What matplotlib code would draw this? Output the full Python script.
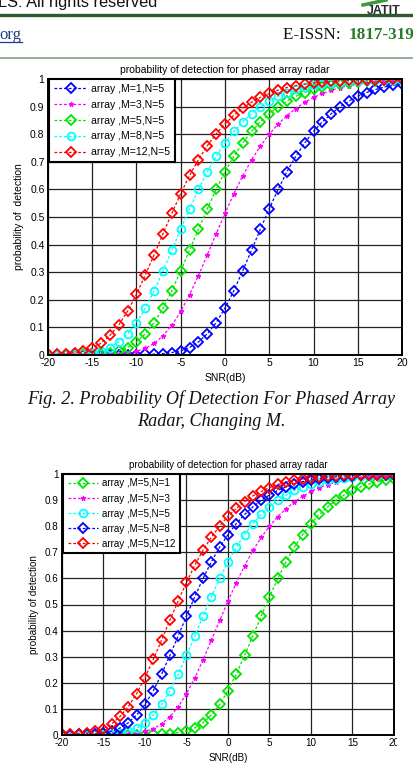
import matplotlib
matplotlib.use("Agg")
import matplotlib.pyplot as plt
from matplotlib.lines import Line2D
from matplotlib.patches import Rectangle

# =========================================
# DATA
# =========================================

snr = list(range(-20, 21))

# M*N = 5
pd_mn5 = [0.000, 0.000, 0.000, 0.000, 0.000, 0.000, 0.000, 0.000, 0.000, 0.001,
          0.001, 0.002, 0.003, 0.005, 0.009, 0.015, 0.027, 0.047, 0.077, 0.117,
          0.170, 0.233, 0.305, 0.380, 0.456, 0.530, 0.600, 0.664, 0.720, 0.768,
          0.810, 0.845, 0.874, 0.899, 0.920, 0.937, 0.951, 0.962, 0.971, 0.977,
          0.982]

# M*N = 15
pd_mn15 = [0.000, 0.000, 0.000, 0.000, 0.001, 0.001, 0.002, 0.003, 0.005, 0.008,
           0.014, 0.024, 0.042, 0.070, 0.108, 0.158, 0.219, 0.288, 0.363, 0.439,
           0.513, 0.584, 0.649, 0.707, 0.757, 0.800, 0.837, 0.867, 0.893, 0.915,
           0.933, 0.948, 0.959, 0.969, 0.976, 0.981, 0.985, 0.988, 0.991, 0.993,
           0.995]

# M*N = 25
pd_mn25 = [0.000, 0.000, 0.001, 0.001, 0.002, 0.003, 0.005, 0.009, 0.015, 0.027,
           0.047, 0.077, 0.117, 0.170, 0.233, 0.305, 0.380, 0.456, 0.530, 0.600,
           0.664, 0.720, 0.768, 0.810, 0.845, 0.874, 0.899, 0.920, 0.937, 0.951,
           0.962, 0.971, 0.977, 0.982, 0.986, 0.989, 0.992, 0.994, 0.995, 0.996,
           0.997]

# M*N = 40
pd_mn40 = [0.001, 0.001, 0.002, 0.003, 0.005, 0.009, 0.015, 0.027, 0.047, 0.077,
           0.117, 0.170, 0.233, 0.305, 0.380, 0.456, 0.530, 0.600, 0.664, 0.720,
           0.768, 0.810, 0.845, 0.874, 0.899, 0.920, 0.937, 0.951, 0.962, 0.971,
           0.977, 0.982, 0.986, 0.989, 0.992, 0.994, 0.995, 0.996, 0.997, 0.998,
           0.998]

# M*N = 60
pd_mn60 = [0.002, 0.003, 0.005, 0.008, 0.014, 0.024, 0.043, 0.071, 0.109, 0.159,
           0.220, 0.290, 0.364, 0.440, 0.514, 0.585, 0.651, 0.708, 0.758, 0.801,
           0.838, 0.868, 0.894, 0.916, 0.933, 0.948, 0.960, 0.969, 0.976, 0.981,
           0.985, 0.988, 0.991, 0.993, 0.995, 0.996, 0.997, 0.998, 0.998, 0.999,
           0.999]

labels_m = ["array ,M=1,N=5", "array ,M=3,N=5", "array ,M=5,N=5",
            "array ,M=8,N=5", "array ,M=12,N=5"]
labels_n = ["array ,M=5,N=1", "array ,M=5,N=3", "array ,M=5,N=5",
            "array ,M=5,N=8", "array ,M=5,N=12"]

x_ticks = [-20, -15, -10, -5, 0, 5, 10, 15, 20]
y_ticks = [0, 0.1, 0.2, 0.3, 0.4, 0.5, 0.6, 0.7, 0.8, 0.9, 1]
y_tick_labels = ["0", "0.1", "0.2", "0.3", "0.4", "0.5", "0.6", "0.7", "0.8", "0.9", "1"]

chart_title = "probability of detection for phased array radar"

# =========================================
# STYLE
# =========================================

W, H = 414, 766
plt.rcParams["font.family"] = ["Liberation Sans", "DejaVu Sans"]
plt.rcParams["axes.unicode_minus"] = False

dash = (0, (2.2, 1.6))
styles = {
    "b": dict(color=(0, 0, 1), marker="D", ms=4.8, mfc="none", mew=1.3),
    "m": dict(color=(1, 0, 1), marker="*", ms=3.5, mew=0.8),
    "g": dict(color=(0, 0.9, 0), marker="D", ms=4.8, mfc="none", mew=1.3),
    "c": dict(color=(0, 1, 1), marker="o", ms=5.6, mfc="none", mew=1.3),
    "r": dict(color=(1, 0, 0), marker="D", ms=4.8, mfc="none", mew=1.3),
}


def fx(px):
    return px / W


def fy(py):
    return 1 - py / H


def setup_axes(ax, ylabel, fs):
    ax.set_xlim(-20, 20)
    ax.set_ylim(0, 1)
    ax.set_xticks(x_ticks)
    ax.set_yticks(y_ticks)
    ax.set_yticklabels(y_tick_labels)
    ax.grid(True, color="#222222", linewidth=0.9, linestyle="-")
    ax.set_axisbelow(True)
    ax.tick_params(length=0, pad=2.5, labelsize=fs)
    for s in ax.spines.values():
        s.set_linewidth(1.4)
        s.set_color("black")
    ax.set_title(chart_title, fontsize=fs, pad=4)
    ax.set_xlabel("SNR(dB)", fontsize=fs, labelpad=3.5)
    ax.set_ylabel(ylabel, fontsize=fs, labelpad=4)


def add_legend(ax, fs, spacing):
    leg = ax.legend(loc="upper left", bbox_to_anchor=(0.004, 1.0),
                    fontsize=fs, handlelength=3.1, handletextpad=0.4,
                    labelspacing=spacing, borderpad=0.45, borderaxespad=0,
                    fancybox=False, framealpha=1, edgecolor="black")
    leg.get_frame().set_linewidth(1.5)
    return leg


fig = plt.figure(figsize=(W / 100, H / 100), dpi=100)

# =========================================
# PAGE HEADER
# =========================================

fig.text(fx(-2), fy(6.5), "LS: All rights reserved", fontsize=11.8,
         family="Liberation Sans", va="baseline", color="#111111")
fig.add_artist(Line2D([fx(363), fx(372), fx(386)], [fy(5), fy(3), fy(0)],
                      color="#3a9a3a", lw=2.5))
fig.text(fx(367), fy(13.5), "JATIT", fontsize=9, fontweight="bold",
         color="#2a2a2a", va="baseline")
fig.add_artist(Line2D([0, 1], [fy(14.5), fy(14.5)], color="#2f5a2f", lw=2.4))
fig.text(fx(-1), fy(39), "org", fontsize=12, family="Liberation Serif",
         va="baseline", color="#1c3c8c")
fig.add_artist(Line2D([fx(0), fx(22)], [fy(41.5), fy(41.5)], color="#1c3c8c", lw=0.9))
fig.text(fx(283), fy(39), "E-ISSN: ", fontsize=12.3, family="Liberation Serif",
         va="baseline", color="#111111")
fig.text(fx(349), fy(39), "1817-3195", fontsize=12.3, family="Liberation Serif",
         fontweight="bold", va="baseline", color="#2a7a2a")
fig.add_artist(Line2D([0, 1], [fy(57.5), fy(57.5)], color="#7f9f7f", lw=1.2))

# =========================================
# TOP CHART: CHANGING M
# =========================================

ax1 = fig.add_axes([fx(48), fy(355), fx(354), 276 / H])
top_series = [(pd_mn5, "b"), (pd_mn15, "m"), (pd_mn25, "g"), (pd_mn40, "c"), (pd_mn60, "r")]
for (vals, key), lab in zip(top_series, labels_m):
    ax1.plot(snr, vals, linestyle=dash, linewidth=0.9, label=lab, **styles[key])
setup_axes(ax1, "probability of  detection", 7.5)
add_legend(ax1, 7.6, 0.56)

# =========================================
# CAPTION
# =========================================

fig.text(fx(211.5), fy(399), "Fig. 2. Probability Of Detection For Phased Array",
         fontsize=13.1, family="Liberation Serif", style="italic",
         ha="center", va="center", color="#111111")
fig.text(fx(211.5), fy(421), "Radar, Changing M.", fontsize=13.1,
         family="Liberation Serif", style="italic", ha="center", va="center",
         color="#111111")

# =========================================
# BOTTOM CHART: CHANGING N
# =========================================

ax2 = fig.add_axes([fx(62), fy(735), fx(332), 261 / H])
bottom_series = [(pd_mn5, "g"), (pd_mn15, "m"), (pd_mn25, "c"), (pd_mn40, "b"), (pd_mn60, "r")]
for (vals, key), lab in zip(bottom_series, labels_n):
    ax2.plot(snr, vals, linestyle=dash, linewidth=0.9, label=lab, **styles[key])
setup_axes(ax2, "probability of detection", 7.1)
add_legend(ax2, 7.1, 0.52)

# the scan is cut just right of the last bottom tick label
fig.add_artist(Rectangle((fx(397.5), 0), fx(17), 28 / H, transform=fig.transFigure,
                         facecolor="white", edgecolor="none", zorder=10))

fig.savefig("out.png", dpi=100)
